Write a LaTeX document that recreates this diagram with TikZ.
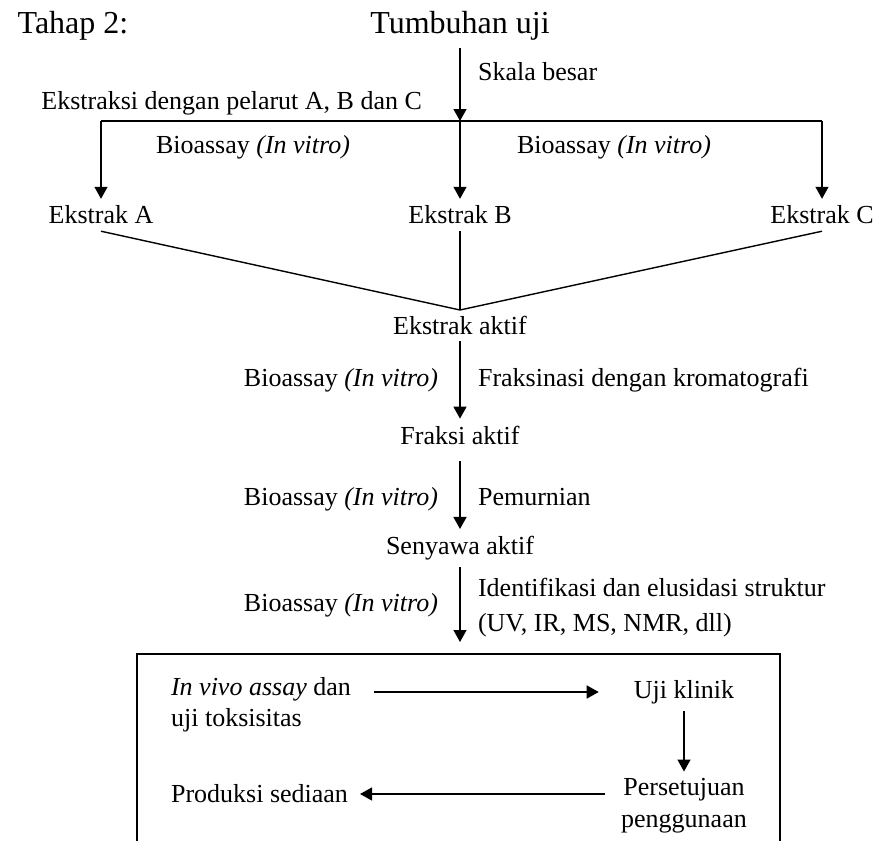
\documentclass[tikz,border=0pt]{standalone}
\usepackage{fontspec}
\setmainfont{Liberation Serif}
\usetikzlibrary{arrows.meta}

\begin{document}
\begin{tikzpicture}[x=0.5pt, y=-0.5pt,
  font=\fontsize{13}{17}\selectfont,
  arr/.style={-{Triangle[length=6pt, width=6.5pt]}, line width=0.7pt},
  big/.style={font=\fontsize{16}{18}\selectfont}]
  \useasboundingbox (0,0) rectangle (874,841);
  \node[big] (tahap) at (73,26) {Tahap 2:};
  \node[big] (tumbuhan) at (460,26) {Tumbuhan uji};
  \coordinate (split) at (460,121);
  \coordinate (splitL) at (101,121);
  \coordinate (splitR) at (822,121);
  \node[anchor=west] (skala) at (471,72) {Skala besar};
  \node[anchor=east] (ekstraksi) at (429,103) {Ekstraksi dengan pelarut A, B dan C};
  \draw[arr] (tumbuhan) -- (split);
  \draw[line width=0.7pt] (splitL) -- (splitR);
  \node (ekstrakA) at (101,215) {Ekstrak A};
  \node (ekstrakB) at (460,215) {Ekstrak B};
  \node (ekstrakC) at (822,215) {Ekstrak C};
  \node (bioL) at (253,147) {Bioassay \textit{(In vitro)}};
  \node (bioR) at (614,147) {Bioassay \textit{(In vitro)}};
  \draw[arr] (splitL) -- (ekstrakA);
  \draw[arr] (split) -- (ekstrakB);
  \draw[arr] (splitR) -- (ekstrakC);
  % ekstrak aktif
  \coordinate (join) at (460,310);
  \node (aktif) at (460,325) {Ekstrak aktif};
  \draw[line width=0.7pt] (ekstrakA.south) -- (join) -- (ekstrakC.south);
  \draw[line width=0.7pt] (ekstrakB) -- (join);
  \node (fraksi) at (460,435) {Fraksi aktif};
  \node[anchor=base east] (bio1) at (445,386) {Bioassay \textit{(In vitro)}};
  \node[anchor=base west] (fraksinasi) at (471,386) {Fraksinasi dengan kromatografi};
  \draw[arr] (aktif) -- (fraksi);
  \node (senyawa) at (460,548) {Senyawa aktif};
  \node[anchor=base east] (bio2) at (445,505) {Bioassay \textit{(In vitro)}};
  \node[anchor=base west] (pemurnian) at (471,505) {Pemurnian};
  \draw[arr, shorten <=5pt] (fraksi) -- (senyawa);
  \coordinate (boxin) at (460,642);
  \node[anchor=base east] (bio3) at (445,611) {Bioassay \textit{(In vitro)}};
  \node[anchor=west, align=left, font=\fontsize{13}{17.5}\selectfont] (identifikasi) at (471,608)
    {Identifikasi dan elusidasi struktur\\(UV, IR, MS, NMR, dll)};
  \draw[arr] (senyawa) -- (boxin);
  % kotak uji lanjut
  \draw[line width=0.7pt] (137,841) |- (780,654) -- (780,841);
  \node[anchor=west, align=left, font=\fontsize{13}{15.5}\selectfont] (invivo) at (164,705)
    {\textit{In vivo assay} dan\\uji toksisitas};
  \node (ujiklinik) at (684,692) {Uji klinik};
  \node[align=center, font=\fontsize{13}{16}\selectfont] (persetujuan) at (684,806)
    {Persetujuan\\penggunaan};
  \node[anchor=west] (produksi) at (164,794) {Produksi sediaan};
  \draw[arr, shorten <=8pt, shorten >=14pt] (invivo.east |- ujiklinik) -- (ujiklinik);
  \draw[arr] (ujiklinik) -- (persetujuan);
  \draw[arr, shorten <=4.5pt, shorten >=2.5pt] (produksi -| persetujuan.west) -- (produksi);
\end{tikzpicture}
\end{document}
